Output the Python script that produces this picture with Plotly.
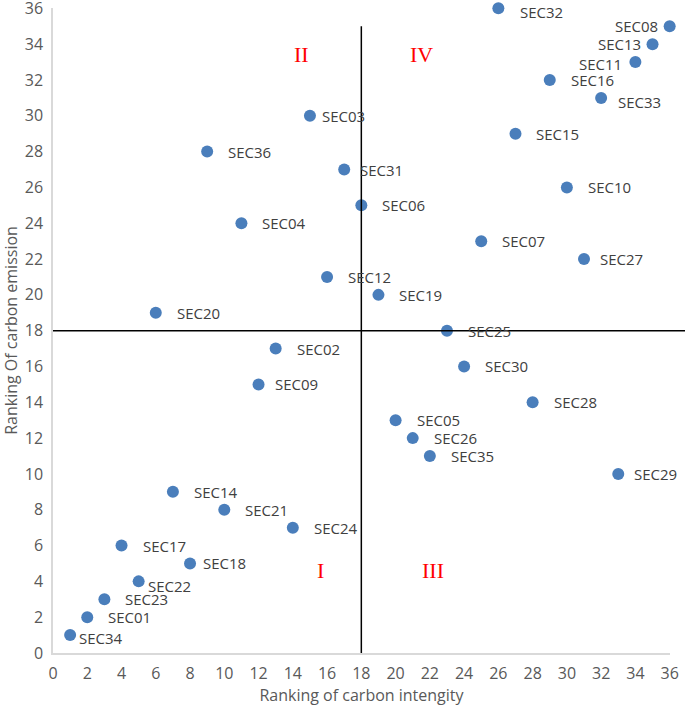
import plotly.graph_objects as go

# ---- data ----
sectors = ["SEC01","SEC02","SEC03","SEC04","SEC05","SEC06","SEC07","SEC08","SEC09","SEC10",
           "SEC11","SEC12","SEC13","SEC14","SEC15","SEC16","SEC17","SEC18","SEC19","SEC20",
           "SEC21","SEC22","SEC23","SEC24","SEC25","SEC26","SEC27","SEC28","SEC29","SEC30",
           "SEC31","SEC32","SEC33","SEC34","SEC35","SEC36"]
intensity_rank = [2,13,15,11,20,18,25,36,12,30,
                  34,16,35,7,27,29,4,8,19,6,
                  10,5,3,14,23,21,31,28,33,24,
                  17,26,32,1,22,9]
emission_rank = [2,17,30,24,13,25,23,35,15,26,
                 33,21,34,9,29,32,6,5,20,19,
                 8,4,3,7,18,12,22,14,10,16,
                 27,36,31,1,11,28]
quadrant_names = ["I", "II", "III", "IV"]
quadrant_x = [15.6, 14.5, 22.2, 21.5]
quadrant_y = [4.6, 33.4, 4.6, 33.4]
tick_vals = list(range(0, 37, 2))

# ---- label placement (style) ----
left_labels = {"SEC08": (-10, 0), "SEC11": (-11, -2), "SEC13": (-10, 0)}
special_shift = {"SEC03": (10, 0), "SEC31": (14, 0), "SEC09": (14, 0), "SEC18": (11, 0),
                 "SEC27": (14, 0), "SEC29": (14, 0), "SEC22": (7, -5), "SEC34": (7, -3),
                 "SEC32": (20, -4), "SEC33": (15, -4)}

FONT = "Open Sans"
GRAY = "#595959"

fig = go.Figure()
fig.add_trace(go.Scatter(
    x=intensity_rank, y=emission_rank, mode="markers",
    marker=dict(size=12, color="#4a7ebb"),
    cliponaxis=False, hoverinfo="text", text=sectors,
))

annotations = []
for name, xv, yv in zip(sectors, intensity_rank, emission_rank):
    if name in left_labels:
        dx, dy = left_labels[name]
        anchor = "right"
    else:
        dx, dy = special_shift.get(name, (19, 0))
        anchor = "left"
    annotations.append(dict(x=xv, y=yv, xref="x", yref="y", text=name, showarrow=False,
                            xanchor=anchor, yanchor="middle", xshift=dx, yshift=dy,
                            font=dict(family=FONT, size=15, color="#404040")))
for q, qx, qy in zip(quadrant_names, quadrant_x, quadrant_y):
    annotations.append(dict(x=qx, y=qy, xref="x", yref="y", text=q, showarrow=False,
                            font=dict(family="Liberation Serif", size=22, color="#ff0000")))

shapes = [
    dict(type="line", xref="x", yref="y", x0=18, x1=18, y0=0, y1=35,
         line=dict(color="#000000", width=1.5)),
    dict(type="line", xref="paper", yref="y", x0=0, x1=1.03, y0=18, y1=18,
         line=dict(color="#000000", width=1.5)),
]

fig.update_layout(
    width=685, height=707,
    margin=dict(l=53, r=15, t=8, b=54, autoexpand=False),
    paper_bgcolor="white", plot_bgcolor="white",
    showlegend=False,
    annotations=annotations, shapes=shapes,
    font=dict(family=FONT, color=GRAY),
)
fig.update_xaxes(range=[0, 36.02], tickvals=tick_vals, showgrid=False, zeroline=False,
                 showline=True, linecolor="#d9d9d9", linewidth=1.5, automargin=False,
                 ticklabelstandoff=5, ticklabeloverflow="allow",
                 tickfont=dict(family=FONT, size=16, color=GRAY),
                 title=dict(text="Ranking of carbon intengity", standoff=4,
                            font=dict(family=FONT, size=16, color=GRAY)))
fig.update_yaxes(range=[0, 36.02], tickvals=tick_vals, showgrid=False, zeroline=False,
                 showline=True, linecolor="#d9d9d9", linewidth=1.5, automargin=False,
                 ticklabelstandoff=5, ticklabeloverflow="allow",
                 tickfont=dict(family=FONT, size=16, color=GRAY),
                 title=dict(text="Ranking Of carbon emission", standoff=4,
                            font=dict(family=FONT, size=16, color=GRAY)))

fig.write_html("out.html", config={"displayModeBar": False},
               post_script="document.body.style.margin='0px';")
